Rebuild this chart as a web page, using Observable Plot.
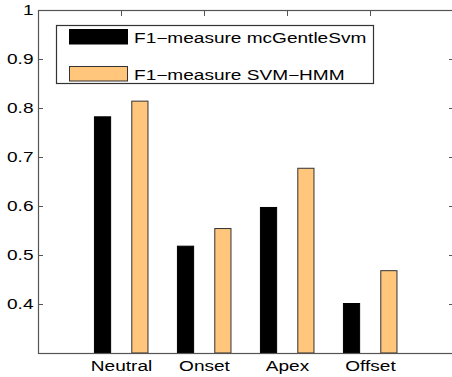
<!DOCTYPE html>
<html><head><meta charset="utf-8">
<script src="https://cdn.jsdelivr.net/npm/d3@7"></script>
<script src="https://cdn.jsdelivr.net/npm/@observablehq/plot@0.6"></script>
<style>
html,body{margin:0;padding:0;background:#fff;}
#chart svg{display:block;font-family:"Liberation Sans",Arial,sans-serif;}
</style></head>
<body><div id="chart"></div>
<script>
const categories = ["Neutral", "Onset", "Apex", "Offset"];
const seriesNames = ["F1\u2212measure mcGentleSvm", "F1\u2212measure SVM\u2212HMM"];
const mcGentleSvm = [0.782, 0.518, 0.597, 0.401];
const svmHmm = [0.814, 0.554, 0.677, 0.468];
const yTicks = [0.4, 0.5, 0.6, 0.7, 0.8, 0.9, 1];
const yTickLabels = ["0.4", "0.5", "0.6", "0.7", "0.8", "0.9", "1"];
const colors = ["#000000", "#FFC67C"];
const strokes = ["#000000", "#333333"];

const rows = [];
categories.forEach((c, i) => {
  rows.push({cat: c, pos: i + 1, s: 0, v: mcGentleSvm[i]});
  rows.push({cat: c, pos: i + 1, s: 1, v: svmHmm[i]});
});
const offs = [[-0.32, -0.125], [0.13, 0.325]];

const plot = Plot.plot({
  width: 452, height: 377,
  marginLeft: 38, marginRight: -1, marginTop: 10, marginBottom: 24,
  style: {fontFamily: "Liberation Sans, Arial, sans-serif", fontSize: "14px", color: "#000", background: "#fff"},
  x: {type: "linear", domain: [0, 5], label: null},
  y: {domain: [0.3, 1], label: null},
  marks: [
    Plot.rect(rows, {
      x1: d => d.pos + offs[d.s][0], x2: d => d.pos + offs[d.s][1],
      y1: 0.3, y2: "v",
      fill: d => colors[d.s], stroke: d => strokes[d.s], strokeWidth: 1
    }),
    Plot.frame({stroke: "#555", strokeWidth: 1.2}),
    Plot.axisY({anchor: "left", label: null, ticks: yTicks, tickSize: -5, tickPadding: 10,
      tickFormat: d => yTickLabels[yTicks.indexOf(d)], stroke: "#555", fill: "#000"}),
    Plot.axisY({anchor: "right", label: null, ticks: yTicks, tickSize: -5, tickFormat: () => "", stroke: "#555"}),
    Plot.axisX({anchor: "top", label: null, ticks: [1, 2, 3, 4], tickSize: -5, tickFormat: () => "", stroke: "#555"}),
    Plot.axisX({anchor: "bottom", label: null, ticks: [1, 2, 3, 4], tickSize: 0, tickPadding: 8,
      tickFormat: d => categories[d - 1], fill: "#000"})
  ]
});
document.getElementById("chart").appendChild(plot);

// legend (inside plot area, top-left)
const svg = d3.select(plot);
const lg = svg.append("g").attr("text-anchor", "start");
lg.append("rect").attr("x", 56.5).attr("y", 25.5).attr("width", 317).attr("height", 58)
  .attr("fill", "#fff").attr("stroke", "#333").attr("stroke-width", 1.2);
const rowsY = [29, 66];
seriesNames.forEach((name, i) => {
  lg.append("rect").attr("x", 69.5).attr("y", rowsY[i] + 0.5).attr("width", 58).attr("height", 14.5)
    .attr("fill", colors[i]).attr("stroke", strokes[i]).attr("stroke-width", 1);
  lg.append("text").attr("x", 134).attr("y", rowsY[i] + 13.5).attr("text-anchor", "start")
    .attr("font-size", 14).attr("fill", "#000").text(name);
});

// horizontally stretch all text to mimic the reference's wide glyphs
plot.querySelectorAll("text").forEach(t => {
  const len = t.getComputedTextLength();
  if (len > 0) {
    t.setAttribute("textLength", (len * 1.36).toFixed(1));
    t.setAttribute("lengthAdjust", "spacingAndGlyphs");
  }
});
</script></body></html>
